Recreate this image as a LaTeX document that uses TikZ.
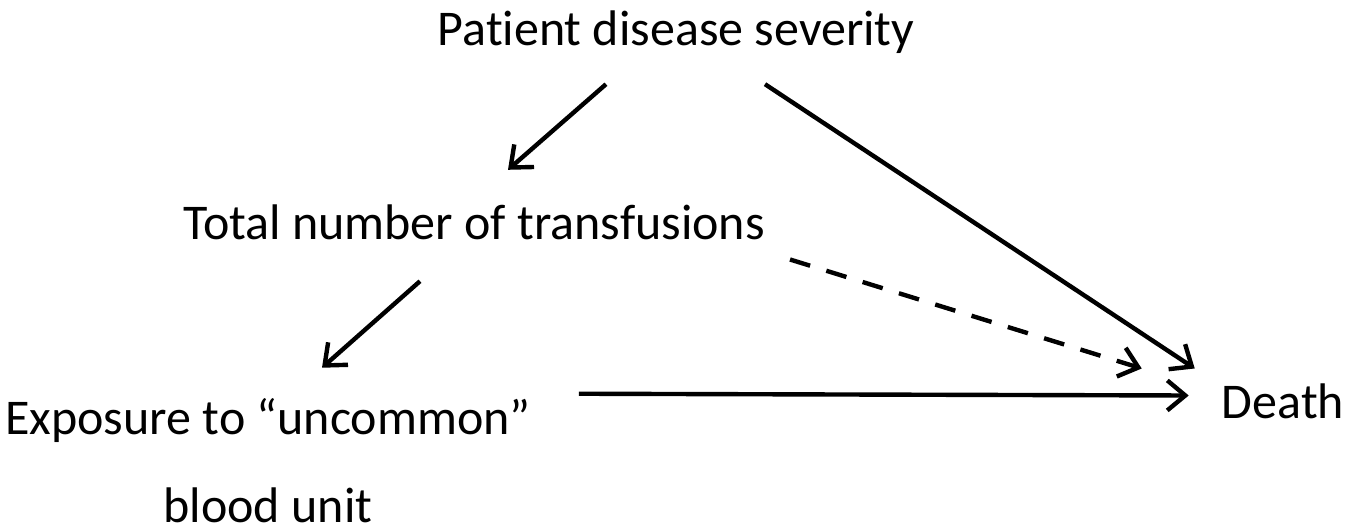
\documentclass[tikz,border=0pt]{standalone}
\usepackage{fontspec}
\setmainfont{Carlito}[Ligatures=NoCommon]
\usetikzlibrary{arrows.meta,calc}

\begin{document}
\begin{tikzpicture}[x=1pt,y=-1pt,
    every node/.style={font=\fontsize{50}{88}\selectfont, inner sep=0pt},
    var/.style={anchor=base, text height=36pt, text depth=11pt},
    arr/.style={line width=4.4pt, -{Straight Barb[length=18pt,width=30pt]}},
    dasharr/.style={arr, dash pattern=on 21pt off 17pt}]

    % Canvas
    \useasboundingbox (0,0) rectangle (1363,529);

    % Variables
    \node[var] (sev) at (676,46) {Patient disease severity};
    \node[var] (tot) at (474,240) {Total number of transfusions};
    \node[anchor=base, align=center] (exp) at (268,522) {Exposure to “uncommon”\\blood unit};
    \node[var] (death) at (1283,418) {Death};

    % Causal paths
    \draw[arr] ($(sev.south)+(-70,27)$) -- ($(tot.north)+(34,-34)$);
    \draw[arr] ($(tot.south)+(-54,30)$) -- ($(exp.north)+(54,-30)$);
    \draw[arr] ($(sev.south)+(89,27)$) -- ($(death.west)+(-27,-37)$);
    \draw[dasharr] ($(tot.east)+(25,32)$) -- ($(death.west)+(-80,-37)$);
    \draw[arr] ($(exp.north east)+(48,-4)$) -- ($(death.west)+(-33,-10)$);

\end{tikzpicture}
\end{document}
